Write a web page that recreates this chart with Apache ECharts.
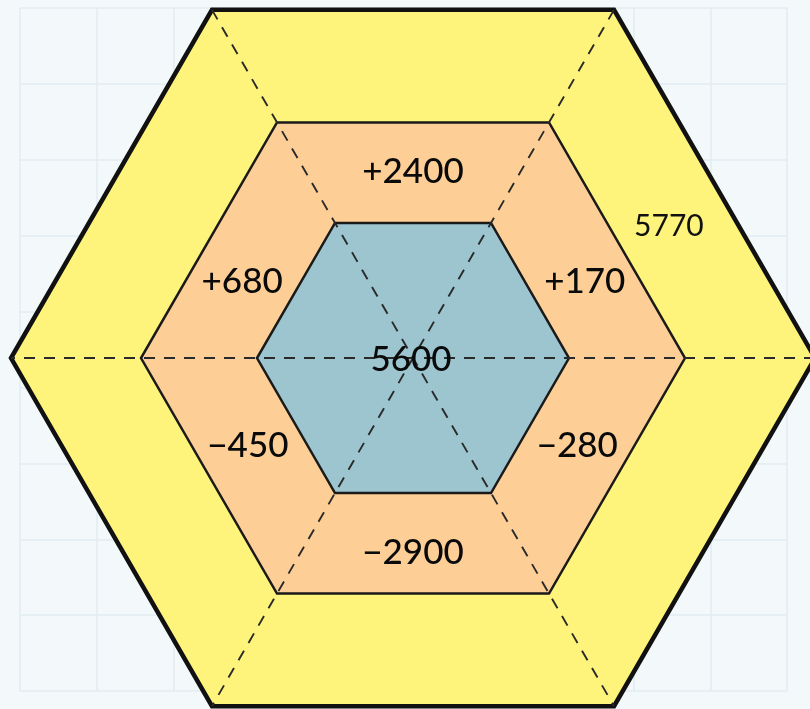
<!DOCTYPE html>
<html><head><meta charset="utf-8">
<script src="https://cdn.jsdelivr.net/npm/echarts@6/dist/echarts.min.js"></script>
<style>html,body{margin:0;padding:0;background:#f3f8fb}#c{width:810px;height:709px}</style>
</head><body><div id="c"></div>
<script>
// ---- data ----
const centerValue = '5600';
const outerValue = '5770';
const ringLabels = ['+2400', '+170', '\u2212280', '\u22122900', '\u2212450', '+680'];
const gridColsCount = 10;
const gridRowsCount = 9;

// ---- layout (pixel-unit coordinate system of grid 1) ----
const CX = 413, CY = 358;
const R_OUT = 402, R_MID = 272, R_IN = 156;
const ringLabelAngles = [90, 24, -28, -90, -152, 156];
const ringLabelDist = [186, 188, 186, 195, 187, 187];
const outerLabelPos = { angle: 27.3, dist: 288 };

const chart = echarts.init(document.getElementById('c'), null, { renderer: 'canvas' });

function renderHex(params, api) {
  const hex = (r) => {
    const pts = [];
    for (let k = 0; k < 6; k++) {
      const a = Math.PI / 3 * k;
      pts.push(api.coord([CX + r * Math.cos(a), CY - r * Math.sin(a)]));
    }
    return pts;
  };
  const polar = (deg, d) => {
    const a = deg * Math.PI / 180;
    return api.coord([CX + d * Math.cos(a), CY - d * Math.sin(a)]);
  };
  const outer = hex(R_OUT), mid = hex(R_MID), inner = hex(R_IN);
  const children = [];
  children.push({ type: 'polygon', shape: { points: outer }, style: { fill: '#fef37b', stroke: '#111', lineWidth: 4.5, lineJoin: 'miter' } });
  children.push({ type: 'polygon', shape: { points: mid }, style: { fill: '#fdcf97', stroke: '#1a1a1a', lineWidth: 2.5 } });
  children.push({ type: 'polygon', shape: { points: inner }, style: { fill: '#9cc5cf', stroke: '#1a1a1a', lineWidth: 2.5 } });
  for (let k = 0; k < 3; k++) {
    const p1 = outer[k], p2 = outer[k + 3];
    children.push({ type: 'line', shape: { x1: p1[0], y1: p1[1], x2: p2[0], y2: p2[1] },
      style: { stroke: '#2a2a2a', lineWidth: 1.9, lineDash: [11, 9] } });
  }
  ringLabels.forEach((t, i) => {
    const p = polar(ringLabelAngles[i], ringLabelDist[i]);
    children.push({ type: 'text', style: { text: t, x: p[0], y: p[1], align: 'center', verticalAlign: 'middle',
      fill: '#0a0a0a', fontSize: 35, fontFamily: 'Lato', fontWeight: 500 } });
  });
  const c = api.coord([CX - 2, CY + 2]);
  children.push({ type: 'text', style: { text: centerValue, x: c[0], y: c[1], align: 'center', verticalAlign: 'middle',
    fill: '#0a0a0a', fontSize: 35, fontFamily: 'Lato', fontWeight: 500 } });
  const o = polar(outerLabelPos.angle, outerLabelPos.dist);
  children.push({ type: 'text', style: { text: outerValue, x: o[0], y: o[1], align: 'center', verticalAlign: 'middle',
    fill: '#111', fontSize: 30, fontFamily: 'Lato', fontWeight: 'normal' } });
  return { type: 'group', children };
}

chart.setOption({
  backgroundColor: '#f3f8fb',
  animation: false,
  grid: [
    { left: 20, top: 8, right: 810 - (20 + 76.7 * gridColsCount), bottom: 709 - (8 + 75.9 * gridRowsCount), show: false },
    { left: 0, top: 0, right: 0, bottom: 0, show: false }
  ],
  xAxis: [
    { gridIndex: 0, type: 'value', min: 0, max: gridColsCount, interval: 1, axisLine: { show: false }, axisTick: { show: false }, axisLabel: { show: false },
      splitLine: { show: true, lineStyle: { color: '#e0ecf2', width: 1.5 } } },
    { gridIndex: 1, type: 'value', min: 0, max: 810, show: false }
  ],
  yAxis: [
    { gridIndex: 0, type: 'value', min: 0, max: gridRowsCount, interval: 1, axisLine: { show: false }, axisTick: { show: false }, axisLabel: { show: false },
      splitLine: { show: true, lineStyle: { color: '#e0ecf2', width: 1.5 } } },
    { gridIndex: 1, type: 'value', min: 0, max: 709, inverse: true, show: false }
  ],
  series: [{
    type: 'custom', xAxisIndex: 1, yAxisIndex: 1, data: [[0, 0]], renderItem: renderHex, clip: false, silent: true
  }]
});
</script></body></html>
